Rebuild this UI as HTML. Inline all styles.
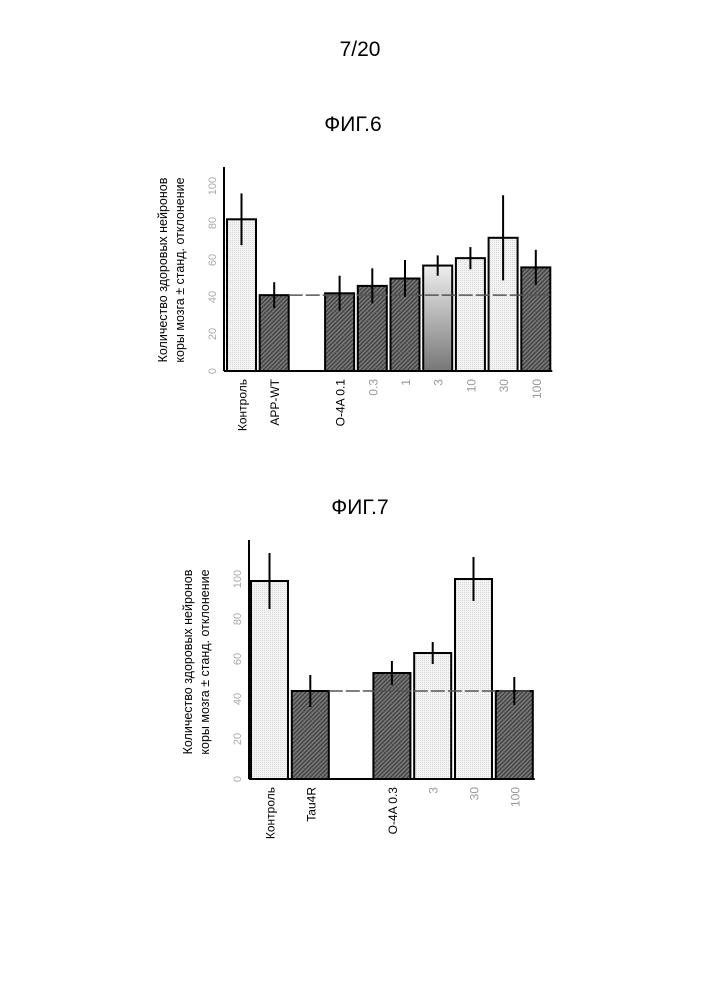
<!DOCTYPE html>
<html><head><meta charset="utf-8"><style>
body{margin:0;background:#fff}
svg text{font-family:"Liberation Sans",sans-serif}
</style></head><body>
<svg id="s" width="707" height="1000" viewBox="0 0 707 1000" xmlns="http://www.w3.org/2000/svg">
<defs>
<pattern id="hatch" width="3" height="3" patternUnits="userSpaceOnUse" patternTransform="rotate(45)">
<rect width="3" height="3" fill="#7a7a7a"/><rect width="1.5" height="3" fill="#444"/></pattern>
<pattern id="dots" width="2" height="2" patternUnits="userSpaceOnUse">
<rect width="2" height="2" fill="#f4f4f4"/><rect width="1" height="1" fill="#d8d8d8"/></pattern>
<linearGradient id="grad" x1="0" y1="0" x2="0" y2="1"><stop offset="0" stop-color="#eee"/><stop offset="1" stop-color="#777"/></linearGradient>
</defs>
<text x="360" y="56" font-size="21" text-anchor="middle">7/20</text>
<text x="353" y="131" font-size="21" text-anchor="middle">ФИГ.6</text>
<text x="360" y="514" font-size="21" text-anchor="middle">ФИГ.7</text>
<g id="c1"></g>
<g id="c2"></g>
</svg>
<script>
const c1Labels=["Контроль","APP-WT","","O-4A  0.1","0.3","1","3","10","30","100"];
const c1Values=[82,41,null,42,46,50,57,61,72,56];
const c1Errors=[14,7,0,9.5,9.5,10,5.5,6,23,9.5];
const c1Fills=["dots","hatch","","hatch","hatch","hatch","grad","dots","dots","hatch"];
const c1Ticks=[0,20,40,60,80,100];
const c1Ref=41;
const c2Labels=["Контроль","Tau4R","","O-4A  0.3","3","30","100"];
const c2Values=[99,44,null,53,63,100,44];
const c2Errors=[14,8,0,6,5.5,11,7];
const c2Fills=["dots","hatch","","hatch","dots","dots","hatch"];
const c2Ticks=[0,20,40,60,80,100];
const c2Ref=44;
const NS="http://www.w3.org/2000/svg";
function mk(p,t,a){const e=document.createElementNS(NS,t);for(const k in a)e.setAttribute(k,a[k]);p.appendChild(e);return e;}
function chart(g,o,labels,values,errors,fills,ticks,ref){
  const y=v=>o.base-v*o.ppu, x=i=>o.x0+i*o.step;
  const ax=mk(g,'line',{x1:o.ax,y1:o.top,x2:o.ax,y2:o.base,stroke:'#000','stroke-width':2});
  
  ticks.forEach(t=>{const tt=mk(g,'text',{x:o.ax-12,y:y(t),'font-size':11,fill:'#aaa','text-anchor':'middle',transform:`rotate(-90 ${o.ax-12} ${y(t)})`,dy:4});
    tt.textContent=t;});
  values.forEach((v,i)=>{
    if(v!==null){
      const f=fills[i]==='grad'?'url(#grad)':'url(#'+fills[i]+')';
      const r=mk(g,'rect',{x:x(i),y:y(v),width:o.w,height:o.base-y(v),fill:f,stroke:'#000','stroke-width':2});
      
    }
  });
  const last=values.length-1;
  const rl=mk(g,'line',{x1:x(1)+o.w,y1:y(ref),x2:x(last)+o.w,y2:y(ref),stroke:'#555','stroke-width':1.5,'stroke-dasharray':'14 3'});
  
  values.forEach((v,i)=>{if(v===null)return;const cx=x(i)+o.w/2;
    const e=mk(g,'line',{x1:cx,y1:y(v+errors[i]),x2:cx,y2:y(v-errors[i]),stroke:'#000','stroke-width':2});
    });
  const bl=mk(g,'line',{x1:o.ax,y1:o.base,x2:x(last)+o.w+2,y2:o.base,stroke:'#000','stroke-width':2});
  
  labels.forEach((l,i)=>{if(!l)return;const cx=x(i)+o.w/2+5,ty=o.base+8;
    const t=mk(g,'text',{x:cx,y:ty,'font-size':12,'text-anchor':'end',transform:`rotate(-90 ${cx} ${ty})`,fill:i>=4?'#999':'#000'});
    t.textContent=l;});
  ['Количество здоровых нейронов','коры мозга ± станд. отклонение'].forEach((s,k)=>{
    const tx=o.tx+k*17,ty=o.ty;
    const t=mk(g,'text',{x:tx,y:ty,'font-size':12.5,'text-anchor':'middle',transform:`rotate(-90 ${tx} ${ty})`});
    t.textContent=s;});
}
chart(document.getElementById('c1'),{ax:224,top:167,base:371,ppu:1.85,x0:227,step:32.7,w:29,tx:167,ty:270},c1Labels,c1Values,c1Errors,c1Fills,c1Ticks,c1Ref);
chart(document.getElementById('c2'),{ax:249,top:540,base:779,ppu:2.0,x0:251,step:40.8,w:37,tx:192,ty:662},c2Labels,c2Values,c2Errors,c2Fills,c2Ticks,c2Ref);
</script>
</body></html>
